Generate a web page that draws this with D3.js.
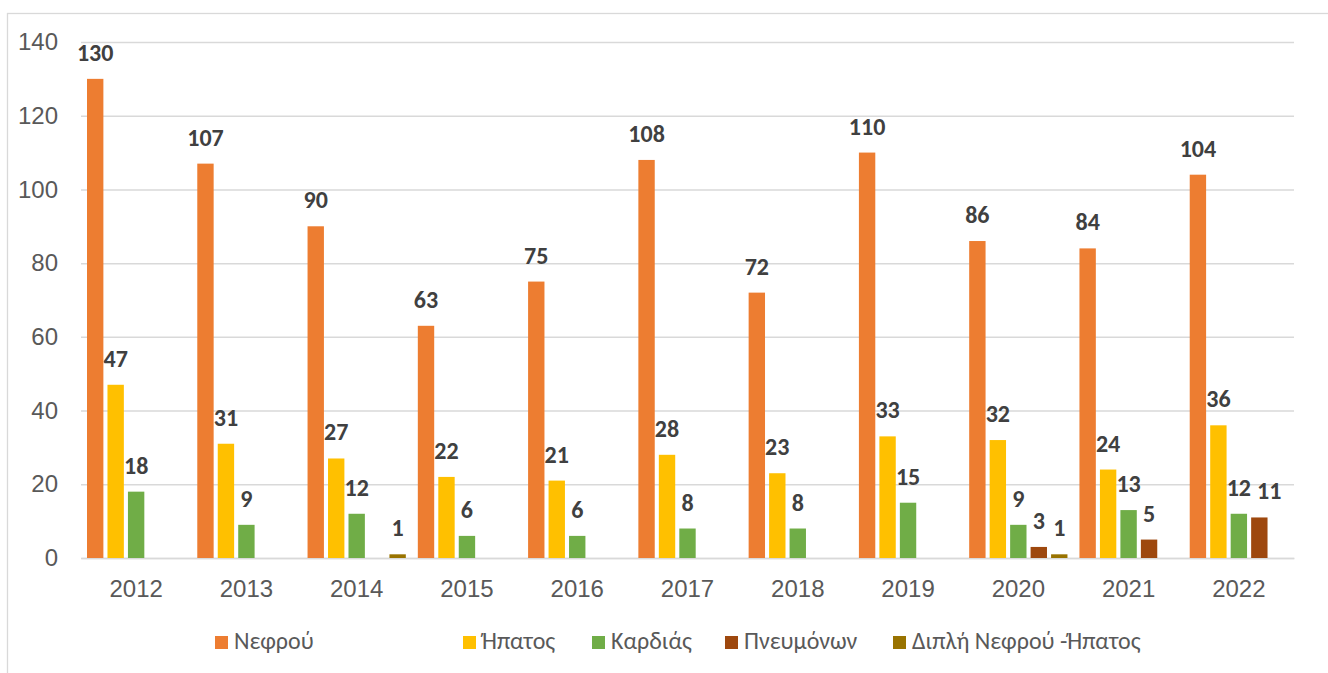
<!DOCTYPE html>
<html>
<head>
<meta charset="utf-8">
<script src="https://cdn.jsdelivr.net/npm/d3@7"></script>
<style>
    body { margin: 0; background: #fff; }
    svg { display: block; font-family: Calibri, Carlito, "Open Sans", sans-serif; }
</style>
</head>
<body>
<svg id="chart" width="1328" height="673"></svg>
<script>
// data
const years = ["2012", "2013", "2014", "2015", "2016", "2017", "2018", "2019", "2020", "2021", "2022"];
const seriesNames = ["Νεφρού", "Ήπατος", "Καρδιάς", "Πνευμόνων", "Διπλή Νεφρού -Ήπατος"];
const nefrou    = [130, 107, 90, 63, 75, 108, 72, 110, 86, 84, 104];
const ipatos    = [47, 31, 27, 22, 21, 28, 23, 33, 32, 24, 36];
const kardias   = [18, 9, 12, 6, 6, 8, 8, 15, 9, 13, 12];
const pneumonon = [0, 0, 0, 0, 0, 0, 0, 0, 3, 5, 11];
const dipli     = [0, 0, 1, 0, 0, 0, 0, 0, 1, 0, 0];
const yTicks = [0, 20, 40, 60, 80, 100, 120, 140];
const colors = ["#ED7D31", "#FFC000", "#70AD47", "#9E480E", "#997300"];

// legend x positions (Excel spaced them unevenly)
const legendX = [215, 463, 592, 725, 893];

const allSeries = [nefrou, ipatos, kardias, pneumonon, dipli];

const svg = d3.select("#chart");
const margin = {left: 81, right: 1294, top: 42, bottom: 558};

// chart frame
svg.append("rect")
    .attr("x", 7.5).attr("y", 13.5)
    .attr("width", 1400).attr("height", 700)
    .attr("fill", "none")
    .attr("stroke", "#d9d9d9")
    .attr("stroke-width", 1.3);

const x0 = d3.scaleBand()
    .domain(years)
    .range([margin.left, margin.right]);

const x1 = d3.scaleBand()
    .domain(d3.range(seriesNames.length))
    .range([6, x0.bandwidth() - 6])
    .paddingInner(0.2);

const y = d3.scaleLinear()
    .domain([0, 140])
    .range([margin.bottom, margin.top]);

// gridlines + y labels
const yAxis = svg.append("g")
    .attr("transform", `translate(${margin.left},0)`)
    .call(d3.axisLeft(y).tickValues(yTicks).tickSize(-(margin.right - margin.left)).tickPadding(23));
yAxis.select(".domain").remove();
yAxis.selectAll(".tick line")
    .attr("stroke", "#d9d9d9")
    .attr("stroke-width", 1.5);
yAxis.selectAll(".tick text")
    .attr("fill", "#595959")
    .style("font-size", "24px");

// x labels
const xAxis = svg.append("g")
    .attr("transform", `translate(0,${margin.bottom})`)
    .call(d3.axisBottom(x0).tickSize(0).tickPadding(22));
xAxis.select(".domain")
    .attr("stroke", "#d9d9d9")
    .attr("stroke-width", 1.5);
xAxis.selectAll(".tick text")
    .attr("fill", "#595959")
    .style("font-size", "24px");

// bars
const rows = years.map((yr, i) => ({
    year: yr,
    values: allSeries.map((s, k) => ({k: k, v: s[i]}))
}));

const groups = svg.append("g")
    .selectAll("g")
    .data(rows)
    .join("g")
    .attr("transform", d => `translate(${x0(d.year)},0)`);

groups.selectAll("rect")
    .data(d => d.values.filter(e => e.v > 0))
    .join("rect")
    .attr("x", d => x1(d.k))
    .attr("y", d => y(d.v))
    .attr("width", x1.bandwidth())
    .attr("height", d => y(0) - y(d.v))
    .attr("fill", d => colors[d.k]);

groups.selectAll("text")
    .data(d => d.values.filter(e => e.v > 0))
    .join("text")
    .attr("x", d => x1(d.k) + x1.bandwidth() / 2)
    .attr("y", d => y(d.v) - 18)
    .attr("text-anchor", "middle")
    .attr("fill", "#404040")
    .style("font-size", "24px")
    .style("font-weight", "bold")
    .text(d => d.v);

// push a label right if it runs into its left neighbour at the same height
groups.each(function() {
    let prev = null;
    d3.select(this).selectAll("text").each(function() {
        const b = this.getBBox();
        if (prev && Math.abs(b.y - prev.y) < b.height && b.x < prev.x + prev.width + 6) {
            const dx = prev.x + prev.width + 6 - b.x;
            this.setAttribute("x", +this.getAttribute("x") + dx);
            b.x += dx;
        }
        prev = b;
    });
});

// legend
const legend = svg.append("g")
    .selectAll("g")
    .data(seriesNames)
    .join("g")
    .attr("transform", (d, i) => `translate(${legendX[i]},636)`);

legend.append("rect")
    .attr("width", 13)
    .attr("height", 13)
    .attr("fill", (d, i) => colors[i]);

legend.append("text")
    .attr("x", 19)
    .attr("y", 13)
    .attr("fill", "#595959")
    .style("font-size", "24px")
    .text(d => d);
</script>
</body>
</html>
